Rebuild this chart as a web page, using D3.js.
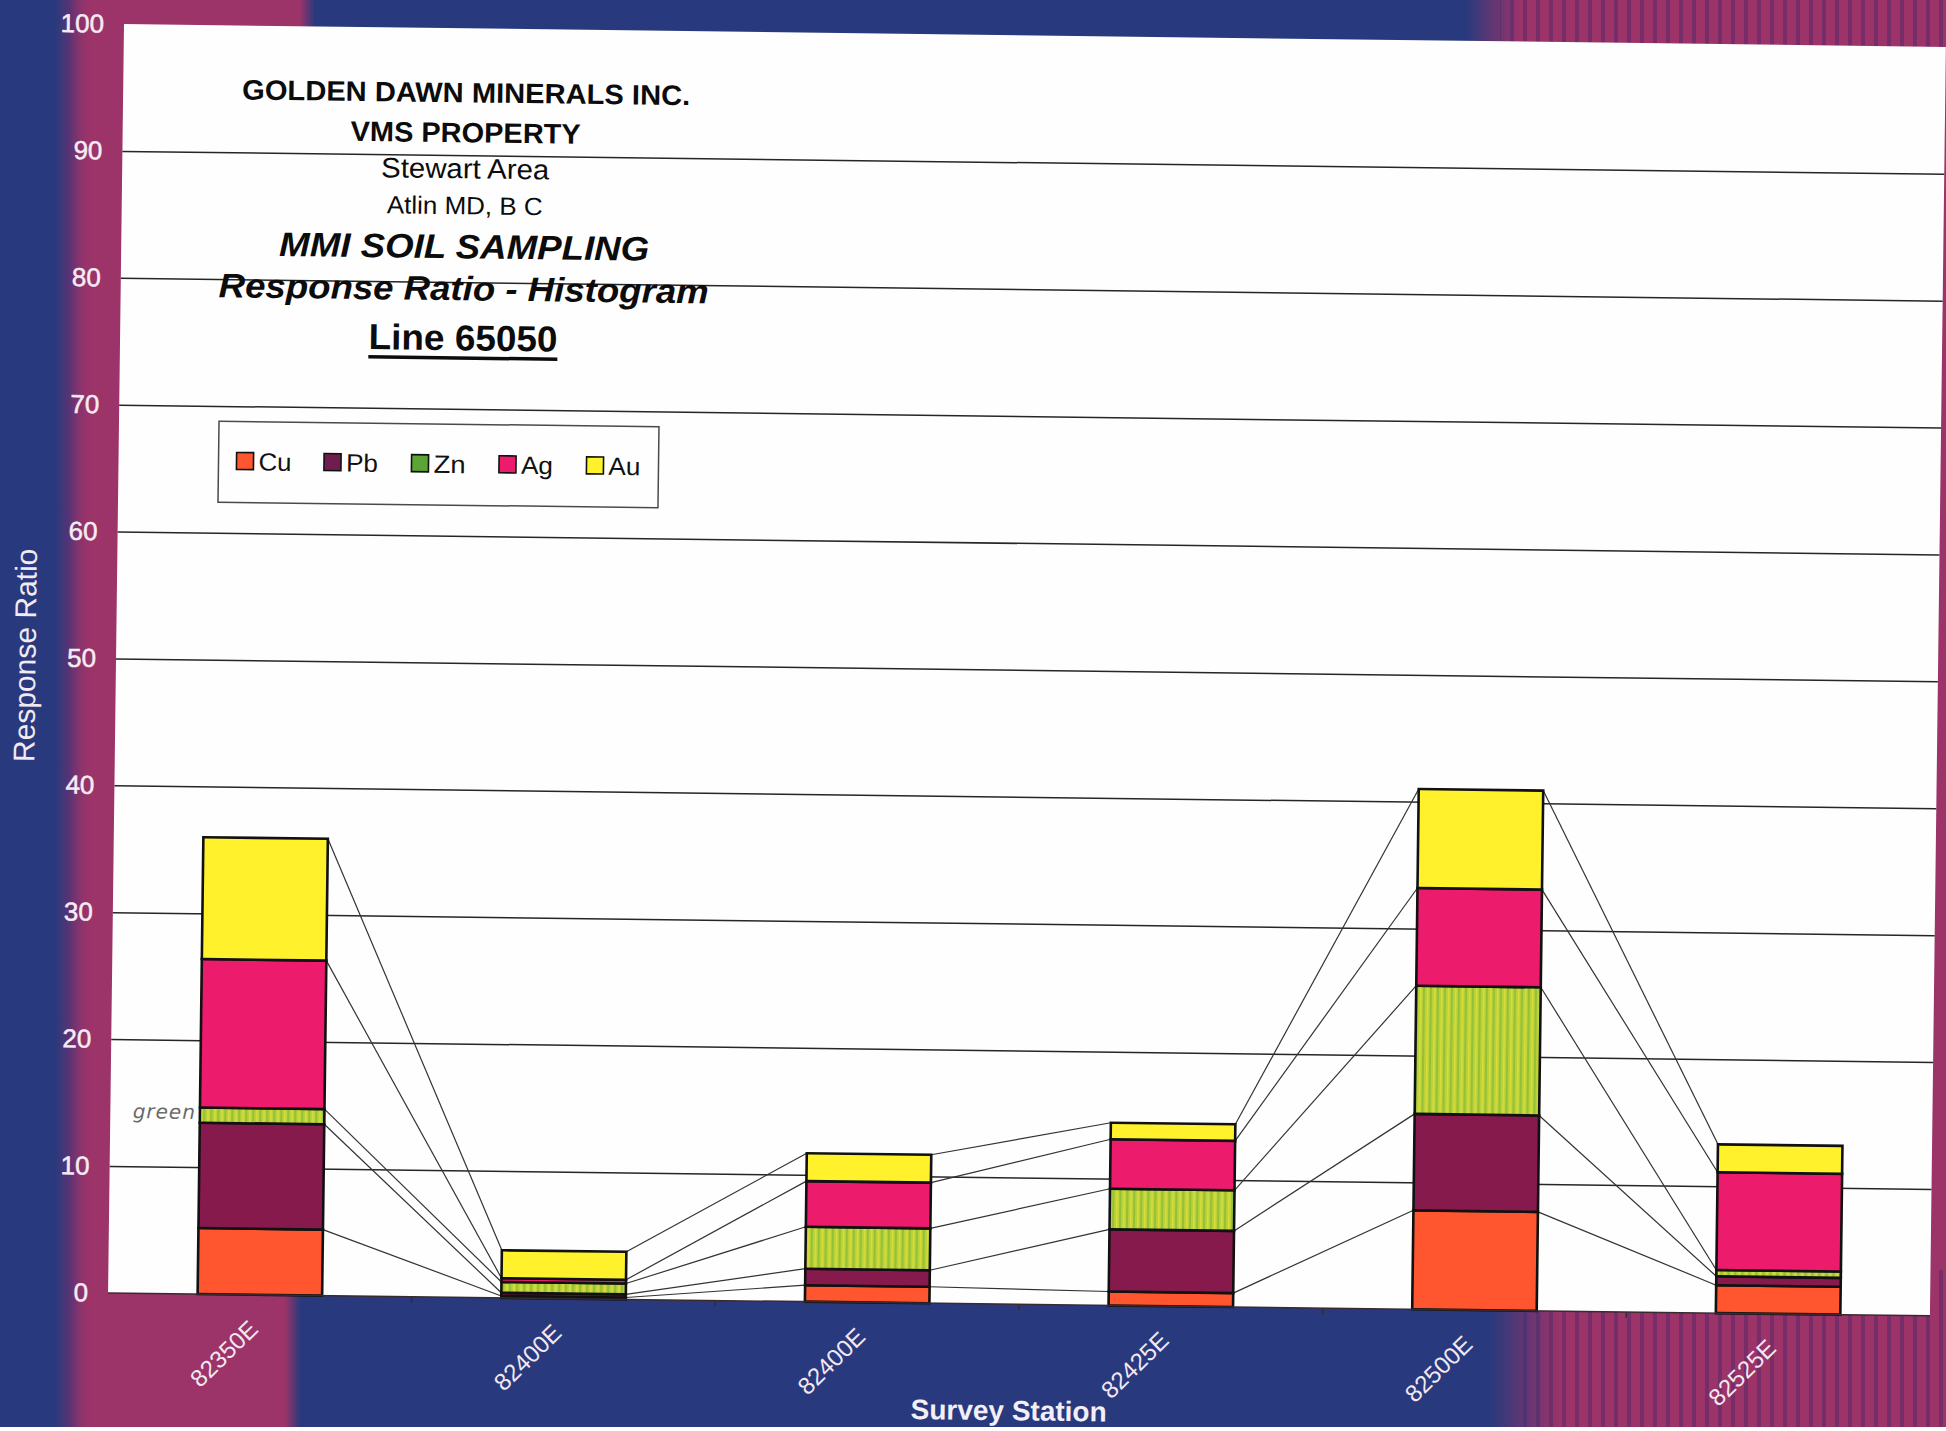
<!DOCTYPE html>
<html>
<head>
<meta charset="utf-8">
<script src="https://cdn.jsdelivr.net/npm/d3@7"></script>
<style>
  html, body { margin: 0; padding: 0; background: #ffffff; }
  svg { display: block; font-family: "Liberation Sans", Arial, sans-serif; }
</style>
</head>
<body>
<svg id="chart" width="1946" height="1431"></svg>
<script>
// ---- data -------------------------------------------------------------
const stations = ["82350E", "82400E", "82400E", "82425E", "82500E", "82525E"];
const elements = ["Cu", "Pb", "Zn", "Ag", "Au"];
const cuValues = [5.2, 0.15, 1.3, 1.1, 7.8, 2.2];
const pbValues = [8.3, 0.25, 1.3, 4.9, 7.6, 0.7];
const znValues = [1.2, 0.85, 3.3, 3.2, 10.1, 0.5];
const agValues = [11.7, 0.3, 3.6, 3.9, 7.7, 7.7];
const auValues = [9.6, 2.2, 2.2, 1.3, 7.8, 2.2];
const yTicks = [0, 10, 20, 30, 40, 50, 60, 70, 80, 90, 100];
const titleLines = [
  "GOLDEN DAWN MINERALS INC.",
  "VMS PROPERTY",
  "Stewart Area",
  "Atlin MD, B C",
  "MMI SOIL SAMPLING",
  "Response Ratio - Histogram",
  "Line 65050"
];
const yAxisTitle = "Response Ratio";
const xAxisTitle = "Survey Station";
const noteText = "green";

// ---- setup ------------------------------------------------------------
const W = 1946, H = 1431;
const svg = d3.select("#chart");
const defs = svg.append("defs");

const BLUE = "#283a7d";
const MAGENTA = "#9c3369";
const STRIPE = "#6a2b68";

const seriesValues = [cuValues, pbValues, znValues, agValues, auValues];
const barFill = ["#ff5630", "#861a4c", "url(#znStripes)", "#ec1b6b", "#fff22c"];
const keyFill = ["#ff5630", "#6e1d4e", "#5aa533", "#ec1b6b", "#fff22c"];

// striped yellow-green fill used for Zn
const zn = defs.append("pattern").attr("id", "znStripes")
  .attr("patternUnits", "userSpaceOnUse").attr("width", 7).attr("height", 10);
zn.append("rect").attr("width", 7).attr("height", 10).attr("fill", "#b9d236");
zn.append("rect").attr("x", 0).attr("width", 2).attr("height", 10).attr("fill", "#94c03a");
zn.append("rect").attr("x", 4).attr("width", 1.5).attr("height", 10).attr("fill", "#dcdc3c");

// vertical stripe texture for the right-hand border
const st = defs.append("pattern").attr("id", "borderStripes")
  .attr("patternUnits", "userSpaceOnUse").attr("width", 13).attr("height", 20);
st.append("rect").attr("width", 13).attr("height", 20).attr("fill", MAGENTA);
st.append("rect").attr("x", 2).attr("width", 4).attr("height", 20).attr("fill", STRIPE).attr("opacity", 0.75);

function fadeGradient(id, x1, x2, stops) {
  const g = defs.append("linearGradient").attr("id", id)
    .attr("gradientUnits", "userSpaceOnUse")
    .attr("x1", x1).attr("x2", x2).attr("y1", 0).attr("y2", 0);
  stops.forEach(s => g.append("stop").attr("offset", s[0])
    .attr("stop-color", s[1]).attr("stop-opacity", s[2]));
}
fadeGradient("leftFade", 0, 100, [[0, BLUE, 1], [0.55, BLUE, 1], [0.7, "#5a3374", 1], [0.92, MAGENTA, 0]]);
fadeGradient("topFade", 300, 1540, [[0, BLUE, 0], [0.012, BLUE, 1], [0.94, BLUE, 1], [0.985, BLUE, 0]]);
fadeGradient("bottomFade", 285, 1580, [[0, BLUE, 0], [0.012, BLUE, 1], [0.93, BLUE, 1], [0.985, BLUE, 0]]);

// ---- page background ----------------------------------------------------
const bg = svg.append("g");
bg.append("rect").attr("width", W).attr("height", H).attr("fill", MAGENTA);
bg.append("rect").attr("x", 1500).attr("y", 0).attr("width", W - 1500).attr("height", 80).attr("fill", "url(#borderStripes)");
bg.append("rect").attr("x", 1520).attr("y", 1270).attr("width", W - 1520).attr("height", H - 1270).attr("fill", "url(#borderStripes)");
bg.append("rect").attr("x", 300).attr("y", 0).attr("width", 1240).attr("height", 80).attr("fill", "url(#topFade)");
bg.append("rect").attr("x", 285).attr("y", 1270).attr("width", 1295).attr("height", H - 1270).attr("fill", "url(#bottomFade)");
bg.append("rect").attr("x", 0).attr("y", 0).attr("width", 100).attr("height", H).attr("fill", "url(#leftFade)");
bg.append("rect").attr("x", 0).attr("y", H - 4).attr("width", W).attr("height", 4).attr("fill", "#ffffff");

// ---- chart frame ------------------------------------------------------
const plotX = 124, plotY = 24, plotW = 1822, plotH = 1269;
const chart = svg.append("g").attr("transform", `rotate(0.72, ${plotX}, ${plotY})`);

const x = d3.scaleBand().domain(d3.range(stations.length))
  .range([plotX, plotX + plotW]).paddingInner(0.59).paddingOuter(0.295);
const y = d3.scaleLinear().domain([0, 100]).range([plotY + plotH, plotY]);
const bw = x.bandwidth();

chart.append("rect").attr("x", plotX).attr("y", plotY)
  .attr("width", plotW).attr("height", plotH).attr("fill", "#fefefe");

// horizontal gridlines
chart.append("g").attr("transform", `translate(${plotX},0)`)
  .call(d3.axisLeft(y).tickValues(yTicks.filter(t => t > 0 && t < 100)).tickSize(-plotW).tickFormat(""))
  .call(g => g.select(".domain").remove())
  .call(g => g.selectAll("line").attr("stroke", "#262626").attr("stroke-width", 1.5));

// stacked tops for every element at every station
const stacked = [];
seriesValues.forEach((vals, s) => {
  stacked.push(vals.map((v, i) => {
    const base = s === 0 ? 0 : stacked[s - 1][i][1];
    return [base, base + v];
  }));
});

// series lines joining segment tops between neighbouring columns
const sl = chart.append("g");
stacked.forEach(ser => {
  for (let i = 0; i < stations.length - 1; i++) {
    sl.append("line")
      .attr("x1", x(i) + bw).attr("y1", y(ser[i][1]))
      .attr("x2", x(i + 1)).attr("y2", y(ser[i + 1][1]))
      .attr("stroke", "#333").attr("stroke-width", 1.2);
  }
});

// columns
stacked.forEach((ser, s) => {
  chart.append("g").selectAll("rect").data(ser).join("rect")
    .attr("x", (d, i) => x(i))
    .attr("y", d => y(d[1]))
    .attr("width", bw)
    .attr("height", d => y(d[0]) - y(d[1]))
    .attr("fill", barFill[s])
    .attr("stroke", "#111").attr("stroke-width", 2.6);
});

// category axis line and boundary ticks
chart.append("line").attr("x1", plotX).attr("x2", plotX + plotW)
  .attr("y1", y(0)).attr("y2", y(0)).attr("stroke", "#3a2a30").attr("stroke-width", 1.5);
const step = x.step();
chart.append("g").selectAll("line").data(d3.range(1, stations.length)).join("line")
  .attr("x1", k => x(k) - step * x.paddingInner() / 2)
  .attr("x2", k => x(k) - step * x.paddingInner() / 2)
  .attr("y1", y(0)).attr("y2", y(0) + 6)
  .attr("stroke", "#3a2a30").attr("stroke-width", 1.5);

// value axis labels
chart.append("g").attr("transform", `translate(${plotX},0)`)
  .call(d3.axisLeft(y).tickValues(yTicks).tickSize(0).tickPadding(20))
  .call(g => g.select(".domain").remove())
  .call(g => g.selectAll("text")
    .attr("fill", "#f6ecf3").attr("font-size", 26)
    .attr("stroke", "#f6ecf3").attr("stroke-width", 0.5)
    .attr("font-family", "\"Liberation Sans\", Arial, sans-serif"));

// station labels
chart.append("g").selectAll("text").data(stations).join("text")
  .attr("transform", (d, i) => `translate(${x(i) + bw / 2 - 6}, ${y(0) + 30}) rotate(-45)`)
  .attr("text-anchor", "end").attr("dy", "0.35em")
  .attr("fill", "#f3e8f1").attr("font-size", 24)
  .text(d => d);

// axis titles
chart.append("text")
  .attr("transform", `translate(33, ${plotY + plotH / 2 - 2}) rotate(-90)`)
  .attr("text-anchor", "middle").attr("dy", "0.35em")
  .attr("fill", "#f2e9f2").attr("font-size", 30)
  .text(yAxisTitle);
chart.append("text")
  .attr("x", 1026).attr("y", 1409)
  .attr("text-anchor", "middle")
  .attr("fill", "#f4eef6").attr("font-size", 28).attr("font-weight", "bold")
  .text(xAxisTitle);

// title block
const titleStyle = [
  { y: 98,  size: 28, weight: "bold",   style: "normal", len: 448 },
  { y: 138, size: 28, weight: "bold",   style: "normal", len: 230 },
  { y: 174, size: 28, weight: "normal", style: "normal", len: 168 },
  { y: 210, size: 25, weight: "normal", style: "normal", len: 156 },
  { y: 254, size: 34, weight: "bold",   style: "italic", len: 370 },
  { y: 296, size: 34, weight: "bold",   style: "italic", len: 490 },
  { y: 346, size: 36, weight: "bold",   style: "normal", len: 189 }
];
const titleX = 467;
titleLines.forEach((t, i) => {
  const s = titleStyle[i];
  chart.append("text")
    .attr("x", titleX).attr("y", s.y)
    .attr("text-anchor", "middle")
    .attr("font-size", s.size).attr("font-weight", s.weight).attr("font-style", s.style)
    .attr("textLength", s.len).attr("lengthAdjust", "spacingAndGlyphs")
    .attr("fill", "#0c0c0c")
    .text(t);
});
// underline for the line number
chart.append("rect")
  .attr("x", titleX - 189 / 2).attr("y", 352).attr("width", 189).attr("height", 3.5).attr("fill", "#0c0c0c");

// legend
const lgX = 224, lgY = 420, lgW = 440, lgH = 81;
const legend = chart.append("g");
legend.append("rect").attr("x", lgX).attr("y", lgY).attr("width", lgW).attr("height", lgH)
  .attr("fill", "#fefefe").attr("stroke", "#4a4a4a").attr("stroke-width", 1.5);
const item = legend.selectAll("g").data(elements).join("g")
  .attr("transform", (d, i) => `translate(${lgX + 18 + i * 87.5}, ${lgY + 40})`);
item.append("rect").attr("x", 0).attr("y", -9).attr("width", 17).attr("height", 17)
  .attr("fill", (d, i) => keyFill[i]).attr("stroke", "#111").attr("stroke-width", 1.6);
item.append("text").attr("x", 22).attr("dy", "0.35em")
  .attr("font-size", 25).attr("fill", "#111")
  .attr("textLength", d => d === "Cu" ? 33 : 32).attr("lengthAdjust", "spacingAndGlyphs")
  .text(d => d);

// handwritten margin note beside the first column
chart.append("text")
  .attr("x", 178).attr("y", 1118)
  .attr("text-anchor", "middle")
  .attr("font-family", "\"DejaVu Sans\", sans-serif").attr("font-style", "italic")
  .attr("font-size", 20).attr("fill", "#6a6a6a").attr("letter-spacing", 1)
  .text(noteText);
</script>
</body>
</html>
